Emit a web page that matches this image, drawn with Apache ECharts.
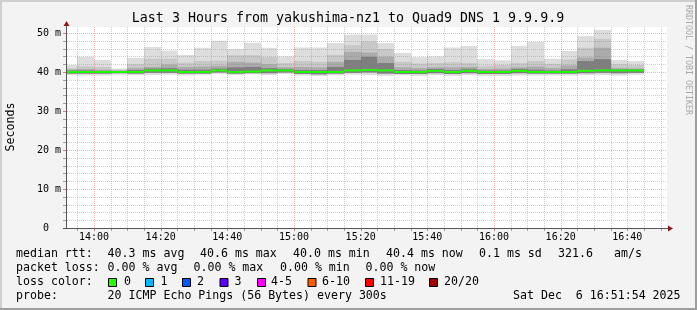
<!DOCTYPE html>
<html><head><meta charset="utf-8">
<script src="https://cdn.jsdelivr.net/npm/echarts@6/dist/echarts.min.js"></script>
<style>html,body{margin:0;padding:0;background:#f3f3f3}#c{width:697px;height:310px}</style>
</head><body><div id="c"></div>
<script>
// ---------- data ----------
const titleText = 'Last 3 Hours from yakushima-nz1 to Quad9 DNS 1 9.9.9.9';
const axisStart = '13:51:54';
const axisEnd = '16:51:54';
const xTickLabels = ['14:00','14:20','14:40','15:00','15:20','15:40','16:00','16:20','16:40'];
const yTickValues = [0, 10, 20, 30, 40, 50];
// end time of each 5-minute step
const slotEnds = ['13:55','14:00','14:05','14:10','14:15','14:20','14:25','14:30','14:35','14:40',
  '14:45','14:50','14:55','15:00','15:05','15:10','15:15','15:20','15:25','15:30',
  '15:35','15:40','15:45','15:50','15:55','16:00','16:05','16:10','16:15','16:20',
  '16:25','16:30','16:35','16:40','16:45'];
// rtt values in ms
const maxRtt = [41.8,43.9,43.1,40.9,43.6,46.4,45.5,44.4,46.2,48.0,45.9,47.5,46.2,44.0,46.3,46.3,47.4,49.6,49.6,47.4,
  44.9,43.8,44.0,46.3,46.7,43.3,43.0,46.7,47.7,43.4,45.4,49.2,50.8,43.1,42.8];
const upperRtt = [41.0,41.5,41.3,40.6,42.0,43.4,43.4,42.4,42.8,42.9,44.3,44.3,43.8,42.3,42.8,42.6,44.4,46.9,47.8,45.9,
  42.6,42.2,42.3,42.5,42.3,41.6,41.8,42.3,42.8,42.1,43.2,46.2,48.5,42.0,41.8];
const innerRtt = [40.6,40.8,40.6,40.3,41.0,41.3,41.9,41.3,41.4,41.6,42.6,42.4,42.0,41.2,41.3,41.2,42.6,45.2,45.0,43.9,
  41.2,41.0,41.2,41.2,41.3,40.8,40.9,41.2,41.4,41.0,41.7,43.7,46.2,41.0,40.9];
const coreRtt = [40.4,40.4,40.3,40.3,40.5,40.9,41.0,40.6,40.6,40.9,41.2,41.3,41.0,40.8,40.5,40.5,41.3,43.1,43.9,42.3,
  40.5,40.4,40.8,40.5,40.8,40.4,40.4,40.8,40.6,40.4,40.7,42.8,43.3,40.7,40.7];
const medianRtt = [40.0,40.0,40.0,40.0,40.0,40.4,40.4,40.0,40.0,40.4,40.0,40.1,40.4,40.4,40.0,40.0,40.0,40.4,40.5,40.4,
  40.0,40.0,40.3,40.0,40.3,40.0,40.0,40.3,40.0,40.0,40.0,40.3,40.4,40.4,40.4];
const lowRtt = [39.6,39.6,39.6,39.7,39.6,39.8,39.8,39.6,39.6,39.9,39.6,39.7,39.7,39.9,39.5,39.4,39.6,39.8,39.9,39.6,
  39.5,39.5,39.7,39.5,39.7,39.5,39.5,39.7,39.6,39.6,39.6,39.7,39.8,39.7,39.8];
const minRtt = [39.2,39.1,39.1,39.3,39.2,39.2,39.3,39.1,39.3,39.5,39.2,39.4,39.2,39.5,39.1,39.0,39.2,39.3,39.2,39.0,
  39.2,39.0,39.2,39.0,39.2,39.0,39.0,39.1,39.1,39.1,39.1,39.2,39.2,39.1,39.3];
const statRtt = ['40.3 ms avg','40.6 ms max','40.0 ms min','40.4 ms now','0.1 ms sd','321.6','am/s'];
const statLoss = ['0.00 % avg','0.00 % max','0.00 % min','0.00 % now'];
const lossLabels = ['0','1','2','3','4-5','6-10','11-19','20/20'];
const lossColors = ['#22ff00','#00b8ff','#0059ff','#5e00ff','#ff00ff','#ff5e00','#ff0000','#a10000'];
const probeText = '20 ICMP Echo Pings (56 Bytes) every 300s';
const stampText = 'Sat Dec  6 16:51:54 2025';

// ---------- helpers ----------
function toMin(s){const p=s.split(':').map(Number);return p[0]*60+p[1]+(p[2]||0)/60;}
function fmtMin(v){const h=Math.floor(v/60), m=Math.round(v-h*60);return String(h).padStart(2,'0')+':'+String(m).padStart(2,'0');}
const xMin = toMin(axisStart), xMax = toMin(axisEnd);
const yMax = 201/3.9;
const MONO = 'DejaVu Sans Mono';
const GRID_MIN = 'rgba(130,130,130,0.38)';
const GRID_MAJ = 'rgba(255,50,50,0.40)';

const smokeRows = slotEnds.map((t,i)=>[toMin(t), minRtt[i], maxRtt[i], lowRtt[i], upperRtt[i], innerRtt[i], coreRtt[i], medianRtt[i]]);

function renderSmoke(params, api){
  const end = api.value(0), start = end - 5;
  const cs = params.coordSys;
  const xs = Math.round(Math.max(api.coord([start,0])[0], cs.x));
  const xe = Math.round(api.coord([end,0])[0]);
  const band = (lo, hi, fill) => {
    const yt = api.coord([start, hi])[1], yb = api.coord([start, lo])[1];
    return {type:'rect', shape:{x:xs, y:yt, width:xe-xs, height:yb-yt}, style:{fill:fill}};
  };
  const ym = api.coord([start, api.value(7)])[1];
  return {type:'group', children:[
    band(api.value(1), api.value(2), '#dddddd'),
    band(api.value(3), api.value(4), '#c8c8c8'),
    band(api.value(3), api.value(5), '#ababab'),
    band(api.value(3), api.value(6), '#7f7f7f'),
    {type:'rect', shape:{x:xs, y:ym-1, width:xe-xs, height:2}, style:{fill:lossColors[0]}}
  ]};
}

function renderGrid(params, api){
  const cs = params.coordSys;
  const x0 = cs.x, x1 = cs.x + cs.width, y0 = cs.y, y1 = cs.y + cs.height;
  const kids = [];
  for (let v = 2; v < yMax; v += 2) {
    const y = Math.round(api.coord([xMin, v])[1]) + 0.5;
    const major = v % 10 === 0;
    kids.push({type:'line', shape:{x1:x0, y1:y, x2:x1, y2:y}, style:{stroke: major?GRID_MAJ:GRID_MIN, lineWidth:1, lineDash:[1,1]}});
    kids.push({type:'line', shape:{x1:x0-4, y1:y, x2:x0, y2:y}, style:{stroke: major?'#d08080':'#a0a0a0', lineWidth:1}});
  }
  for (let t = Math.ceil(xMin/5)*5; t < xMax; t += 5) {
    const x = Math.round(api.coord([t, 0])[0]) + 0.5;
    const major = t % 20 === 0;
    kids.push({type:'line', shape:{x1:x, y1:y0, x2:x, y2:y1}, style:{stroke: major?GRID_MAJ:GRID_MIN, lineWidth:1, lineDash:[1,1]}});
    kids.push({type:'line', shape:{x1:x, y1:y1, x2:x, y2:y1+3}, style:{stroke: major?'#d08080':'#a0a0a0', lineWidth:1}});
  }
  // axes
  kids.push({type:'line', shape:{x1:x0-0.5, y1:y1+0.5, x2:x0-0.5, y2:y0-3}, style:{stroke:'#555555', lineWidth:1}});
  kids.push({type:'line', shape:{x1:x0-4, y1:y1+0.5, x2:x1+2, y2:y1+0.5}, style:{stroke:'#555555', lineWidth:1}});
  kids.push({type:'polygon', shape:{points:[[x0-3.5,y0-1],[x0+2.5,y0-1],[x0-0.5,y0-6]]}, style:{fill:'#8b1a1a'}});
  kids.push({type:'polygon', shape:{points:[[x1+1,y1-2.5],[x1+1,y1+3.5],[x1+6,y1+0.5]]}, style:{fill:'#8b1a1a'}});
  return {type:'group', children:kids};
}

// ---------- graphic texts ----------
const txt = (x, y, text, extra) => Object.assign({type:'text', x:x, y:y, silent:true,
  style:Object.assign({text:text, fill:'#000', font:'11.6px "'+MONO+'"', verticalAlign:'middle', align:'left'}, (extra&&extra.style)||{})},
  extra ? {rotation: extra.rotation||0} : {});
const graphics = [
  {type:'rect', shape:{x:0,y:0,width:697,height:2}, style:{fill:'#cfcfcf'}, silent:true},
  {type:'rect', shape:{x:0,y:0,width:2,height:310}, style:{fill:'#cfcfcf'}, silent:true},
  {type:'rect', shape:{x:0,y:308,width:697,height:2}, style:{fill:'#9e9e9e'}, silent:true},
  {type:'rect', shape:{x:695,y:0,width:2,height:310}, style:{fill:'#9e9e9e'}, silent:true},
  txt(348, 19, titleText, {style:{align:'center', font:'13.3px "'+MONO+'"'}}),
  txt(11, 127, 'Seconds', {rotation:Math.PI/2, style:{align:'center'}}),
  txt(688, 5, 'RRDTOOL / TOBI OETIKER', {rotation:-Math.PI/2, style:{font:'8.3px "'+MONO+'"', fill:'#a8a8a8'}}),
  txt(16, 254, 'median rtt:'),
  txt(16, 268, 'packet loss:'),
  txt(16, 282, 'loss color:'),
  txt(16, 296, 'probe:'),
  txt(107.6, 296, probeText),
  txt(513, 296, stampText)
];
[107.6, 200, 293, 386, 479, 558, 614].forEach((x,i)=>graphics.push(txt(x, 254, statRtt[i])));
[107.6, 193.5, 280, 365.5].forEach((x,i)=>graphics.push(txt(x, 268, statLoss[i])));
const boxX = [108.5, 145.5, 182.5, 220, 257.5, 308, 365.5, 429.5];
const lblX = [124, 160.5, 197, 234.5, 271, 322, 380, 444];
lossLabels.forEach((l,i)=>{
  graphics.push({type:'rect', silent:true, shape:{x:boxX[i], y:278.5, width:8, height:8}, style:{fill:lossColors[i], stroke:'#000', lineWidth:1}});
  graphics.push(txt(lblX[i], 282, l));
});

const chart = echarts.init(document.getElementById('c'), null, {renderer:'canvas'});
chart.setOption({
  backgroundColor:'#f3f3f3',
  animation:false,
  grid:{left:67, top:27, width:600, height:201, show:true, backgroundColor:'#ffffff', borderWidth:0},
  xAxis:{type:'value', min:xMin, max:xMax,
    axisLine:{show:false}, axisTick:{show:false}, splitLine:{show:false},
    axisLabel:{customValues:xTickLabels.map(toMin), formatter:v=>fmtMin(v), fontFamily:MONO, fontSize:10, color:'#000', margin:4}},
  yAxis:{type:'value', min:0, max:yMax, interval:10,
    axisLine:{show:false}, axisTick:{show:false}, splitLine:{show:false},
    axisLabel:{customValues:yTickValues, formatter:v=> v===0 ? '0  ' : (Math.round(v)+' m'), fontFamily:MONO, fontSize:10, color:'#000', margin:6}},
  series:[
    {type:'custom', name:'smoke', renderItem:renderSmoke, data:smokeRows, encode:{x:0, y:[1,2]}, z:2, silent:true},
    {type:'custom', name:'grid', renderItem:renderGrid, data:[[xMin, 0]], encode:{x:0, y:1}, z:10, silent:true, clip:false}
  ],
  graphic:graphics
});
</script></body></html>
